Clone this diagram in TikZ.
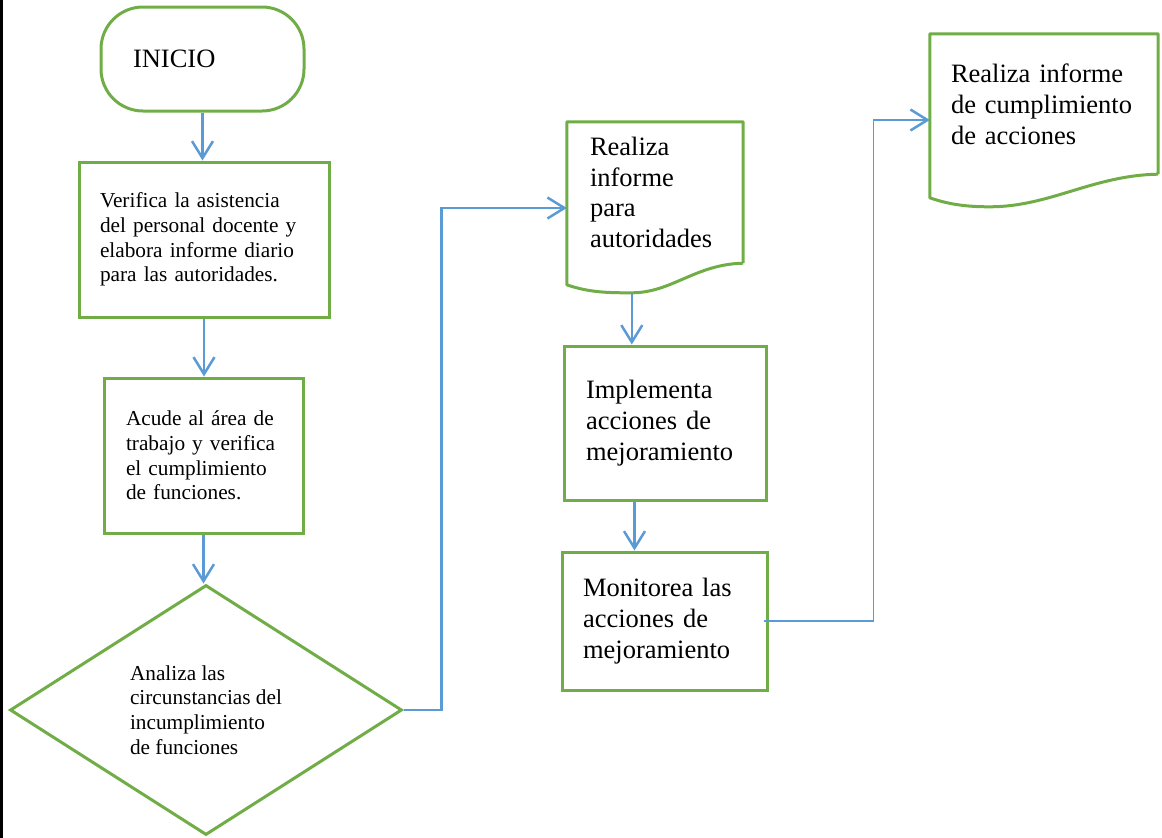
\documentclass[tikz,border=0pt]{standalone}
\usepackage{fontspec}
\setmainfont{Liberation Serif}
\usetikzlibrary{shapes.geometric,arrows.meta}
\definecolor{boxgreen}{RGB}{112,173,71}
\definecolor{lineblue}{RGB}{91,155,213}
\newcommand{\smalltxt}{\fontsize{21.3pt}{24.8pt}\selectfont}
\newcommand{\bigtxt}{\fontsize{26.5pt}{30.8pt}\selectfont}

\begin{document}
\begin{tikzpicture}[x=1pt,y=-1pt,
    procbox/.style={draw=boxgreen, line width=3pt, align=left, inner ysep=0pt, font=\smalltxt},
    docbox/.style={align=left, inner ysep=0pt, font=\bigtxt},
    docline/.style={draw=boxgreen, line width=3pt, line join=round},
    flow/.style={lineblue, line width=2.5pt, -{Straight Barb[length=17pt,width=21pt,line width=2.5pt]}}]
    \useasboundingbox (0,0) rectangle (1162,838);
    \draw [line width=3pt] (1.5,0) -- (1.5,838);% cell border
    % left column
    \node [procbox, rounded corners=42pt, minimum width=203pt, minimum height=104pt, text width=139pt, inner xsep=32pt, font=\bigtxt] (Inicio) at (202.5,59) {INICIO};
    \node [procbox, minimum width=250pt, minimum height=155pt, text width=208pt, inner xsep=21pt] (Verifica) at (204,239.5) {Verifica la asistencia\\del personal docente y\\elabora informe diario\\para las autoridades.};
    \node [procbox, minimum width=199pt, minimum height=155pt, text width=155pt, inner xsep=22pt] (Acude) at (203.5,455.5) {Acude al área de\\trabajo y verifica\\el cumplimiento\\de funciones.};
    \node [procbox, diamond, minimum width=392pt, minimum height=250pt, inner sep=0pt] (Analiza) at (206,710) {Analiza las\\circunstancias del\\incumplimiento\\de funciones};
    % middle column
    \node [docbox, minimum width=176pt, minimum height=141pt, text width=130pt, inner xsep=23pt] (Informe) at (655,192.5) {Realiza\\informe\\para\\autoridades};
    \draw [docline] (Informe.south east) -- (Informe.north east) -- (Informe.north west) -- ++(0,163)
        .. controls +(23,8) and +(-22,0) .. ++(65,8)
        .. controls +(40,0) and +(-48,1) .. (Informe.south east);
    \node [procbox, minimum width=202pt, minimum height=154pt, text width=158pt, inner xsep=22pt, font=\bigtxt] (Implementa) at (665,423) {Implementa\\acciones de\\mejoramiento};
    \node [procbox, minimum width=205pt, minimum height=138pt, text width=163pt, inner xsep=21pt, font=\bigtxt] (Monitorea) at (664.5,621) {Monitorea las\\acciones de\\mejoramiento};
    % right column
    \node [docbox, minimum width=228pt, minimum height=140pt, text width=186pt, inner xsep=21pt] (Cumple) at (1044,104) {Realiza informe\\de cumplimiento\\de acciones};
    \draw [docline] (Cumple.south east) -- (Cumple.north east) -- (Cumple.north west) -- ++(0,164)
        .. controls +(20,7) and +(-22,0) .. ++(60,9)
        .. controls +(60,0) and +(-65,1) .. (Cumple.south east);
    % connectors
    \coordinate (WaveLow)  at ([xshift=65pt,yshift=-30pt]Informe.south west);
    \coordinate (ImplOut)  at ([xshift=72pt]Implementa.south west);
    \draw [flow] (Inicio.south) -- (Inicio.south |- Verifica.north);
    \draw [flow] (Verifica.south) -- (Verifica.south |- Acude.north);
    \draw [flow] (Acude.south) -- (Acude.south |- Analiza.north);
    \draw [flow] (Analiza.east) -- ++(38,0) |- ([yshift=-15.5pt]Informe.west);
    \draw [flow] (WaveLow) -- (WaveLow |- Implementa.north);
    \draw [flow] (ImplOut) -- (ImplOut |- Monitorea.north);
    \draw [flow, line width=1.2pt] ([xshift=-5pt]Monitorea.east) -- ++(110,0) |- ([yshift=-16pt]Cumple.west);
\end{tikzpicture}
\end{document}
